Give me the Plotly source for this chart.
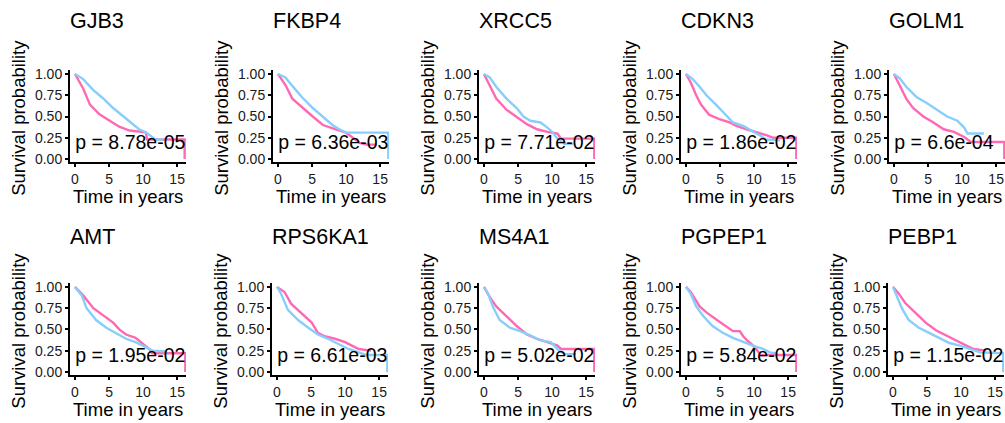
import plotly.graph_objects as go

# ---------------- data ----------------
genes = ["GJB3", "FKBP4", "XRCC5", "CDKN3", "GOLM1",
         "AMT", "RPS6KA1", "MS4A1", "PGPEP1", "PEBP1"]
pvalues = ["8.78e-05", "6.36e-03", "7.71e-02", "1.86e-02", "6.6e-04",
           "1.95e-02", "6.61e-03", "5.02e-02", "5.84e-02", "1.15e-02"]

gjb3_pink_t = [0, 0.5, 1.2, 2.2, 3.6, 5.1, 6.5, 8.0, 10.4, 10.6, 16.1, 16.1]
gjb3_pink_s = [1, 0.93, 0.83, 0.64, 0.525, 0.45, 0.38, 0.335, 0.315, 0.23, 0.23, 0.0]
gjb3_blue_t = [0, 1.2, 2.7, 4.1, 5.6, 7.0, 8.5, 9.4, 10.4, 11.4, 11.8, 13.0]
gjb3_blue_s = [1, 0.94, 0.81, 0.715, 0.6, 0.505, 0.41, 0.35, 0.315, 0.26, 0.23, 0.23]

fkbp4_pink_t = [0, 1.1, 2.1, 3.6, 5.1, 6.6, 7.6, 8.5, 10, 11, 12, 13, 14.5]
fkbp4_pink_s = [1, 0.87, 0.71, 0.6, 0.5, 0.4, 0.37, 0.35, 0.31, 0.25, 0.19, 0.17, 0.17]
fkbp4_blue_t = [0, 1.1, 2.1, 3.6, 5.1, 6.6, 8, 9, 10, 16.2, 16.2]
fkbp4_blue_s = [1, 0.96, 0.86, 0.72, 0.6, 0.5, 0.4, 0.35, 0.31, 0.31, 0.0]

xrcc5_pink_t = [0, 0.85, 1.8, 3.3, 4.8, 6.3, 7.8, 9.3, 10.8, 11.3, 16.2, 16.2]
xrcc5_pink_s = [1, 0.87, 0.71, 0.58, 0.49, 0.41, 0.35, 0.32, 0.30, 0.24, 0.24, 0.0]
xrcc5_blue_t = [0, 0.85, 1.8, 3.3, 4.8, 5.8, 6.8, 8.3, 9.3, 10, 10.8, 11.8, 13.1]
xrcc5_blue_s = [1, 0.96, 0.85, 0.71, 0.6, 0.5, 0.45, 0.43, 0.37, 0.32, 0.24, 0.18, 0.18]

cdkn3_pink_t = [0, 0.7, 1.5, 2.2, 3.4, 4.9, 6.4, 7.4, 8.9, 10.3, 11.8, 12.8, 16.2, 16.2]
cdkn3_pink_s = [1, 0.9, 0.75, 0.64, 0.52, 0.47, 0.43, 0.39, 0.35, 0.32, 0.28, 0.25, 0.25, 0.0]
cdkn3_blue_t = [0, 1, 2, 3, 4.4, 5.9, 6.9, 8.4, 9.8, 10.8, 11.8, 13.8]
cdkn3_blue_s = [1, 0.94, 0.85, 0.75, 0.64, 0.52, 0.43, 0.39, 0.33, 0.28, 0.23, 0.22]

golm1_pink_t = [0, 0.85, 1.8, 2.8, 4.3, 5.8, 7.3, 8.8, 10.3, 11.3, 16.2, 16.2]
golm1_pink_s = [1, 0.87, 0.71, 0.6, 0.5, 0.43, 0.35, 0.32, 0.26, 0.2, 0.2, 0.0]
golm1_blue_t = [0, 0.85, 1.8, 3.3, 4.8, 6.3, 7.8, 9.3, 10.3, 10.8, 13.2]
golm1_blue_s = [1, 0.95, 0.85, 0.73, 0.66, 0.58, 0.5, 0.45, 0.37, 0.30, 0.30]

amt_pink_t = [0, 1.2, 2.7, 4.1, 5.6, 6.5, 7.5, 8.9, 9.9, 10.9, 11.3, 16.2, 16.2]
amt_pink_s = [1, 0.9, 0.75, 0.67, 0.58, 0.5, 0.44, 0.4, 0.33, 0.27, 0.22, 0.22, 0.0]
amt_blue_t = [0, 1, 1.7, 3.1, 4.6, 6, 7.5, 8.9, 10.4, 11.4, 13.5]
amt_blue_s = [1, 0.9, 0.75, 0.61, 0.52, 0.46, 0.39, 0.35, 0.29, 0.25, 0.24]

rps6ka1_pink_t = [0, 1.1, 2.1, 3.6, 5.1, 6, 7, 8.5, 10, 11, 12, 13.8]
rps6ka1_pink_s = [1, 0.94, 0.8, 0.69, 0.58, 0.46, 0.42, 0.39, 0.35, 0.31, 0.27, 0.25]
rps6ka1_blue_t = [0, 0.6, 1.6, 3.1, 4.6, 6, 7.5, 9, 10.5, 12, 13, 16.2, 16.2]
rps6ka1_blue_s = [1, 0.92, 0.73, 0.61, 0.52, 0.44, 0.39, 0.33, 0.27, 0.23, 0.2, 0.2, 0.0]

ms4a1_pink_t = [0, 0.85, 1.8, 3.3, 4.8, 6.3, 7.8, 9.3, 10.8, 11.3, 16.2, 16.2]
ms4a1_pink_s = [1, 0.88, 0.77, 0.65, 0.54, 0.44, 0.39, 0.35, 0.31, 0.27, 0.27, 0.0]
ms4a1_blue_t = [0, 0.6, 1.3, 2.3, 3.8, 5.3, 6.8, 8.3, 9.8, 10.8, 11.8, 13.5]
ms4a1_blue_s = [1, 0.92, 0.77, 0.61, 0.52, 0.48, 0.43, 0.37, 0.35, 0.27, 0.21, 0.21]

pgpep1_pink_t = [0, 0.7, 2, 3, 4.4, 5.9, 6.9, 7.9, 8.4, 9.1, 9.6, 10.3, 11.0, 16.2, 16.2]
pgpep1_pink_s = [1, 0.94, 0.77, 0.7, 0.62, 0.54, 0.48, 0.48, 0.42, 0.36, 0.33, 0.27, 0.2, 0.2, 0.0]
pgpep1_blue_t = [0, 0.7, 1.5, 2.5, 3.9, 5.4, 6.9, 8.4, 9.8, 11.3, 12.3, 13.2]
pgpep1_blue_s = [1, 0.92, 0.77, 0.66, 0.54, 0.46, 0.4, 0.35, 0.31, 0.27, 0.23, 0.22]

pebp1_pink_t = [0, 0.85, 1.8, 3.3, 4.8, 6.3, 7.3, 8.8, 10.3, 11.8, 13.7]
pebp1_pink_s = [1, 0.92, 0.81, 0.7, 0.58, 0.49, 0.45, 0.39, 0.33, 0.27, 0.25]
pebp1_blue_t = [0, 0.6, 1.3, 2.3, 3.8, 5.3, 6.8, 8.3, 9.8, 11.3, 12.8, 16.2, 16.2]
pebp1_blue_s = [1, 0.88, 0.75, 0.61, 0.52, 0.46, 0.4, 0.34, 0.31, 0.27, 0.23, 0.22, 0.0]

y_ticks = [0, 0.25, 0.5, 0.75, 1.0]
y_ticktext = ["0.00", "0.25", "0.50", "0.75", "1.00"]
x_ticks = [0, 5, 10, 15]

curves = [
    (gjb3_pink_t, gjb3_pink_s, gjb3_blue_t, gjb3_blue_s),
    (fkbp4_pink_t, fkbp4_pink_s, fkbp4_blue_t, fkbp4_blue_s),
    (xrcc5_pink_t, xrcc5_pink_s, xrcc5_blue_t, xrcc5_blue_s),
    (cdkn3_pink_t, cdkn3_pink_s, cdkn3_blue_t, cdkn3_blue_s),
    (golm1_pink_t, golm1_pink_s, golm1_blue_t, golm1_blue_s),
    (amt_pink_t, amt_pink_s, amt_blue_t, amt_blue_s),
    (rps6ka1_pink_t, rps6ka1_pink_s, rps6ka1_blue_t, rps6ka1_blue_s),
    (ms4a1_pink_t, ms4a1_pink_s, ms4a1_blue_t, ms4a1_blue_s),
    (pgpep1_pink_t, pgpep1_pink_s, pgpep1_blue_t, pgpep1_blue_s),
    (pebp1_pink_t, pebp1_pink_s, pebp1_blue_t, pebp1_blue_s),
]

# ---------------- layout (pixels) ----------------
W, H = 1005, 423
PINK = "#FF69B4"
BLUE = "#87CEFA"
FONT = "Liberation Sans, Arial, sans-serif"

lefts = [[70, 273, 479, 681, 889], [70, 272, 479, 681, 888]]
row_top = [67, 284]
row_bot = [161.5, 378.5]
panel_w = 116

fig = go.Figure()
annotations = []
layout_axes = {}

for i, gene in enumerate(genes):
    r, c = divmod(i, 5)
    n = i + 1
    xa = "x" if n == 1 else f"x{n}"
    ya = "y" if n == 1 else f"y{n}"
    pt, ps, bt, bs = curves[i]
    fig.add_trace(go.Scatter(x=pt, y=ps, mode="lines", xaxis=xa, yaxis=ya,
                             line=dict(color=PINK, width=2.4), showlegend=False))
    fig.add_trace(go.Scatter(x=bt, y=bs, mode="lines", xaxis=xa, yaxis=ya,
                             line=dict(color=BLUE, width=2.4), showlegend=False))
    fig.add_trace(go.Scatter(x=[0.05], y=[0.17], mode="text",
                             text=[f"p = {pvalues[i]}"], textposition="middle right",
                             textfont=dict(size=19.5, color="black", family=FONT),
                             xaxis=xa, yaxis=ya, cliponaxis=True, showlegend=False))

    l = lefts[r][c]
    rgt = min(l + panel_w, W)
    xd = [l / W, rgt / W]
    yd = [1 - row_bot[r] / H, 1 - row_top[r] / H]
    axis_common = dict(showline=True, linecolor="black", linewidth=2,
                       ticks="outside", ticklen=3, tickwidth=1.5, tickcolor="black",
                       showgrid=False, zeroline=False,
                       tickfont=dict(size=14, color="#1a1a1a", family=FONT))
    layout_axes["xaxis" if n == 1 else f"xaxis{n}"] = dict(
        domain=xd, range=[-0.73, 16.3], tickvals=x_ticks, anchor=ya, **axis_common)
    layout_axes["yaxis" if n == 1 else f"yaxis{n}"] = dict(
        domain=yd, range=[-0.04, 1.05], tickvals=y_ticks, ticktext=y_ticktext,
        anchor=xa, **axis_common)

    # title
    annotations.append(dict(text=gene, x=(l - 2) / W, y=1 - [17, 238][r] / H,
                            xref="paper", yref="paper", xanchor="left", yanchor="middle",
                            showarrow=False, font=dict(size=21.5, color="black", family=FONT)))
    # y axis title
    annotations.append(dict(text="Survival probability", x=(l - 51) / W,
                            y=1 - [116, 333][r] / H, xref="paper", yref="paper",
                            xanchor="center", yanchor="middle", textangle=-90,
                            showarrow=False, font=dict(size=18.5, color="black", family=FONT)))
    # x axis title
    annotations.append(dict(text="Time in years", x=(l + 58) / W,
                            y=1 - [196, 413][r] / H, xref="paper", yref="paper",
                            xanchor="center", yanchor="middle",
                            showarrow=False, font=dict(size=18.5, color="black", family=FONT)))

fig.update_layout(width=W, height=H, margin=dict(l=0, r=0, t=0, b=0),
                  paper_bgcolor="white", plot_bgcolor="white",
                  annotations=annotations, **layout_axes)

fig.write_html("out.html", config={"displayModeBar": False},
               post_script="document.body.style.margin='0';document.body.style.overflow='hidden';")
